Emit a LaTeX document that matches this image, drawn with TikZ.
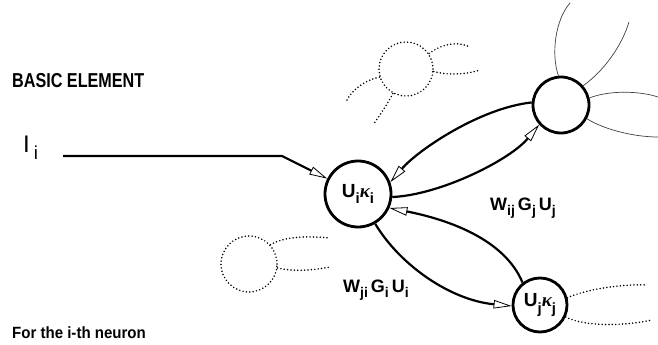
\documentclass[tikz,border=0pt]{standalone}
\usepackage{fontspec}
\setmainfont{Liberation Sans}
\newfontfamily\kapfont{Liberation Serif}
\usepackage{tikz}
\usetikzlibrary{arrows.meta,positioning,calc}

\newcommand{\lo}[1]{\raisebox{-0.32em}{\scalebox{0.78}{#1}}}
\newcommand{\kap}{{\kapfont\bfseries\itshape κ}}

\begin{document}
\begin{tikzpicture}[x=1pt, y=-1pt,
    neuron/.style={draw, circle, line width=2.8pt, inner sep=0pt, font=\fontsize{19}{22}\selectfont\bfseries},
    ghost/.style={draw, circle, line width=1.7pt, dash pattern=on 0pt off 3.4pt, line cap=round, inner sep=0pt},
    tail/.style={line width=1.7pt, dash pattern=on 0pt off 3.4pt, line cap=round},
    wire/.style={line width=0.7pt, black!75},
    link/.style={line width=2.2pt, -{Triangle[open, length=18pt, width=8.5pt, line width=0.8pt]}},
    weight/.style={anchor=base west, inner sep=0pt, font=\fontsize{18}{20}\selectfont\bfseries}]
    \useasboundingbox (0,0) rectangle (658,345);

    % neurons
    \node[neuron, minimum size=66pt] (Ui) at (358,194) {U\lo{i}\kap\lo{i}};
    \node[neuron, minimum size=54pt] (Uj) at (540,305) {U\lo{j}\kap\lo{j}};
    \node[neuron, minimum size=56pt] (Uk) at (561,105) {};
    \node[ghost, minimum size=54pt] (D1) at (406,69) {};
    \node[ghost, minimum size=56pt] (D2) at (249,264) {};

    % texts
    \node[anchor=base west, inner sep=0pt, font=\fontsize{16.5}{18}\selectfont\bfseries] (title) at (12,87) {\scalebox{0.98}[1.22]{BASIC ELEMENT}};
    \node[anchor=base west, inner sep=0pt, font=\fontsize{15.5}{18}\selectfont\bfseries] (note) at (12,338) {\scalebox{0.97}[1.05]{For the i-th neuron}};
    \node[anchor=base west, inner sep=0pt, font=\fontsize{24}{24}\selectfont] (Ii) at (23,152) {I\,\lo{i}};
    \node[weight] (wij) at (490,210) {W\lo{ij}\,G\lo{j}\,U\lo{j}};
    \node[weight] (wji) at (343,292) {W\lo{ji}\,G\lo{i}\,U\lo{i}};

    % input
    \coordinate (feed) at (63,156);
    \coordinate (kink) at (282,156);
    \draw[link] (feed) -- (kink) -- (Ui);

    % couplings
    \draw[link] (Uk.175) .. controls (480,108) and (418,150) .. (Ui.20);
    \draw[link] (Ui.-5) .. controls (440,195) and (510,160) .. (Uk.222);
    \draw[link] (Uj.128) .. controls (505,240) and (450,220) .. (Ui.-24);
    \draw[link] (Ui.-60) .. controls (400,265) and (450,300) .. (Uj.182);

    % loose ends
    \coordinate (k1) at (570,3);
    \coordinate (k2) at (629,22);
    \coordinate (k3) at (658,97);
    \coordinate (k4) at (658,137);
    \draw[wire] (Uk.95) .. controls (551,55) and (555,20) .. (k1);
    \draw[wire] (Uk.41) .. controls (605,70) and (622,45) .. (k2);
    \draw[wire] (Uk.14) .. controls (610,90) and (640,91) .. (k3);
    \draw[wire] (Uk.-28) .. controls (605,130) and (635,137) .. (k4);

    \coordinate (j1) at (647,285);
    \coordinate (j2) at (652,320);
    \draw[tail] (Uj.15) .. controls (590,288) and (625,284) .. (j1);
    \draw[tail] (Uj.-25) .. controls (585,327) and (625,326) .. (j2);

    \coordinate (a1) at (470,47);
    \coordinate (a2) at (480,70);
    \coordinate (a3) at (347,100);
    \coordinate (a4) at (373,125);
    \draw[tail] (D1.34) .. controls (445,42) and (460,42) .. (a1);
    \draw[tail] (D1.-5) .. controls (445,75) and (465,75) .. (a2);
    \draw[tail] (D1.197) .. controls (365,80) and (352,90) .. (a3);
    \draw[tail] (D1.242) .. controls (388,103) and (380,115) .. (a4);

    \coordinate (b1) at (330,238);
    \coordinate (b2) at (330,267);
    \draw[tail] (D2.42) .. controls (285,236) and (310,236) .. (b1);
    \draw[tail] (D2.-8) .. controls (295,272) and (315,270) .. (b2);
\end{tikzpicture}
\end{document}
